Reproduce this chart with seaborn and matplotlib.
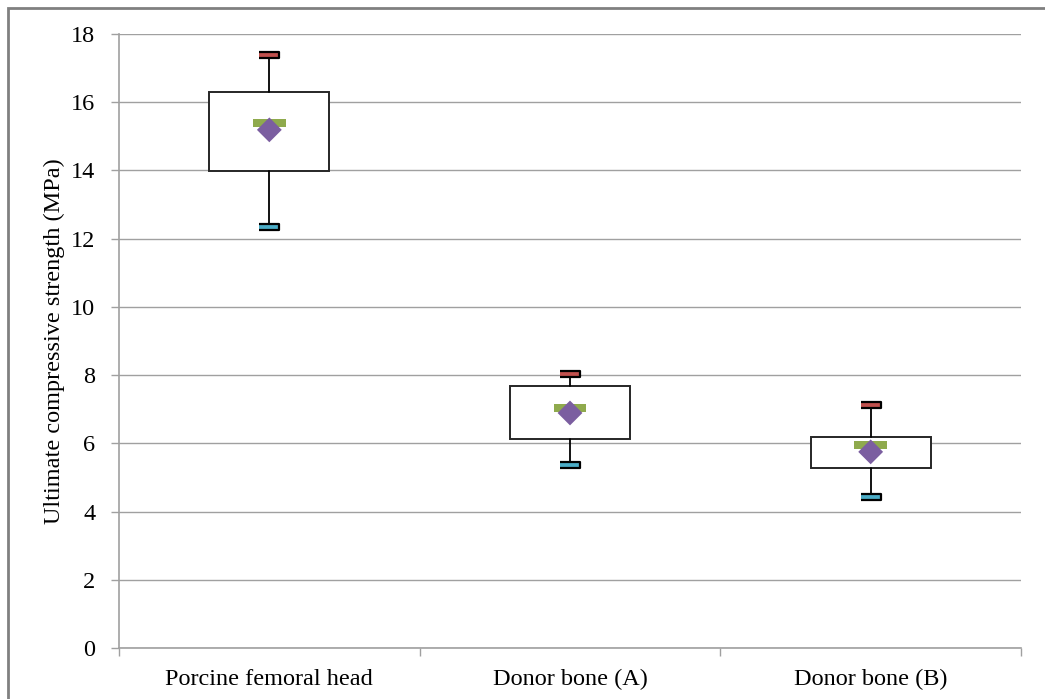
import matplotlib
matplotlib.use("Agg")
import matplotlib.pyplot as plt
from matplotlib.patches import Rectangle
import numpy as np
import pandas as pd
import seaborn as sns

# Summary statistics for each specimen group (MPa)
groups = ["Porcine femoral head", "Donor bone (A)", "Donor bone (B)"]
maximum = [17.38, 8.03, 7.12]
q3 = [16.30, 7.68, 6.19]
median = [15.39, 7.04, 5.95]
mean = [15.19, 6.89, 5.75]
q1 = [13.98, 6.13, 5.28]
minimum = [12.34, 5.37, 4.43]

y_ticks = [0, 2, 4, 6, 8, 10, 12, 14, 16, 18]

sns.set_theme(style="white")
plt.rcParams["font.family"] = ["Liberation Serif", "DejaVu Serif"]
plt.rcParams["text.color"] = "black"
plt.rcParams["xtick.color"] = "black"
plt.rcParams["ytick.color"] = "black"
plt.rcParams["axes.labelcolor"] = "black"

FS = 17.5

fig = plt.figure(figsize=(10.45, 6.99), dpi=100)
ax = fig.add_axes([119 / 1045, 1 - 648 / 699, 902 / 1045, 614 / 699])

pos = np.arange(len(groups))
stats = [
    dict(label=g, whislo=lo, q1=a, med=m, q3=b, whishi=hi, fliers=[])
    for g, lo, a, m, b, hi in zip(groups, minimum, q1, median, q3, maximum)
]
ax.bxp(
    stats, positions=pos, widths=0.4, showcaps=False, showfliers=False,
    patch_artist=True,
    boxprops=dict(facecolor="white", edgecolor="#262626", linewidth=1.4),
    whiskerprops=dict(color="black", linewidth=1.3),
    medianprops=dict(linewidth=0),
    zorder=3,
)

df = pd.DataFrame({"x": pos, "max": maximum, "min": minimum,
                   "median": median, "mean": mean})

cap = [(-2, -0.6), (2, -0.6), (2, 0.6), (-2, 0.6)]
bar = [(-2, -0.5), (2, -0.5), (2, 0.5), (-2, 0.5)]
sns.scatterplot(data=df, x="x", y="max", marker=cap, s=210,
                color="#C0504D", edgecolor="black", linewidth=1.6,
                ax=ax, zorder=5, legend=False)
sns.scatterplot(data=df, x="x", y="min", marker=cap, s=210,
                color="#4BACC6", edgecolor="black", linewidth=1.6,
                ax=ax, zorder=5, legend=False)
sns.scatterplot(data=df, x="x", y="median", marker=bar, s=560,
                color="#8FAA4D", edgecolor="none", linewidth=0,
                ax=ax, zorder=5, legend=False)
sns.scatterplot(data=df, x="x", y="mean", marker="D", s=160,
                color="#7B5EA0", edgecolor="none", linewidth=0,
                ax=ax, zorder=6, legend=False)

ax.set_xlim(-0.5, 2.5)
ax.set_ylim(0, 18)
ax.set_yticks(y_ticks)
ax.set_yticklabels([str(t) for t in y_ticks], fontsize=FS)
ax.set_xticks(pos)
ax.set_xticklabels(groups, fontsize=FS)
ax.tick_params(axis="x", length=0, pad=15)
ax.tick_params(axis="y", length=6, color="#A0A0A0", width=1, pad=11, left=True)
ax.set_xticks([-0.5, 0.5, 1.5, 2.5], minor=True)
ax.tick_params(axis="x", which="minor", length=6, color="#A0A0A0", width=1, bottom=True)

ax.yaxis.grid(True, color="#A0A0A0", linewidth=1)
ax.xaxis.grid(False)
ax.set_axisbelow(True)
for side in ["top", "right"]:
    ax.spines[side].set_visible(False)
for side in ["left", "bottom"]:
    ax.spines[side].set_color("#A0A0A0")
    ax.spines[side].set_linewidth(1.2)

ax.set_xlabel("")
ax.set_ylabel("Ultimate compressive strength (MPa)", fontsize=FS, labelpad=4)

# Frame around the chart area
fig.patches.append(Rectangle((8 / 1045, -0.05), 1.1, 1 - 8 / 699 + 0.05,
                             transform=fig.transFigure, fill=False,
                             edgecolor="#808080", linewidth=2))

fig.savefig("out.png", dpi=100)
